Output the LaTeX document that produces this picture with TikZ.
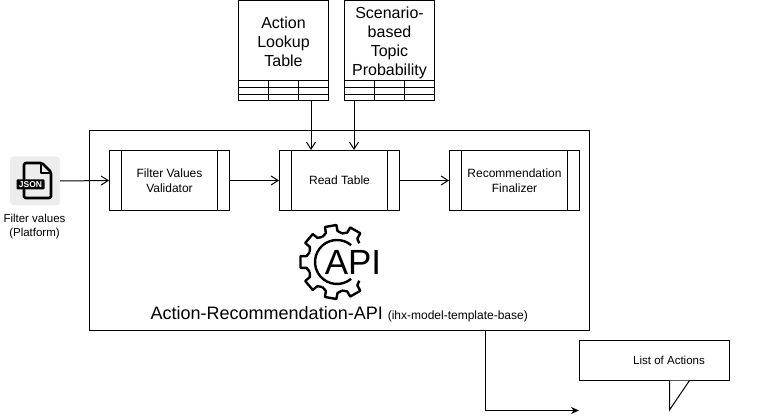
\documentclass[tikz,border=0pt]{standalone}
\usepackage{fontspec}
\setmainfont{Liberation Sans}
\usetikzlibrary{arrows.meta}

\tikzset{
    procbox/.style={draw=black, line width=1pt, minimum height=60pt, inner sep=0pt, align=center, font=\fontsize{12}{15}\selectfont},
    tablebox/.style={draw=black, line width=1pt, minimum width=90pt, minimum height=100pt, inner sep=0pt},
    tablelabel/.style={align=center, inner sep=0pt, font=\fontsize{16}{19}\selectfont},
    flow/.style={black, line width=1pt, -{Straight Barb[length=7pt,width=9pt]}},
}

\begin{document}
\begin{tikzpicture}[x=1pt, y=-1pt]
    \useasboundingbox (0,0) rectangle (760,419);
    \fill[white] (0,0) rectangle (760,419);

    % api box
    \node (apibox) [draw=black, line width=1pt, minimum width=500pt, minimum height=200pt, inner sep=0pt] at (339.5,230.5) {};

    % tables on top
    \node (lookup) [tablebox] at (283.5,50.5) {};
    \node (lookuptext) [tablelabel] at (283.5,41.5) {Action\\Lookup\\Table};
    \node (scenario) [tablebox] at (389.5,50.5) {};
    \node (scenariotext) [tablelabel] at (389.5,42.5) {Scenario-\\based\\Topic\\Probability};
    \foreach \tx in {238.5,344.5} {
        \foreach \ty in {80.5,87.5,94.5}
            \draw[black, line width=1pt] (\tx,\ty) -- (\tx+90,\ty);
        \draw[black, line width=1pt] (\tx+30,80.5) -- (\tx+30,100.5);
        \draw[black, line width=1pt] (\tx+60,80.5) -- (\tx+60,100.5);
    }

    % process boxes
    \node (validator) [procbox, minimum width=120pt] at (169.5,180.5) {Filter Values\\Validator};
    \node (readtable) [procbox, minimum width=120pt] at (339.5,180.5) {Read Table};
    \node (finalizer) [procbox, minimum width=130pt] at (514.5,180.5) {Recommendation\\Finalizer};
    \draw[black, line width=1pt] (121.5,150.5) -- (121.5,210.5);
    \draw[black, line width=1pt] (217.5,150.5) -- (217.5,210.5);
    \draw[black, line width=1pt] (291.5,150.5) -- (291.5,210.5);
    \draw[black, line width=1pt] (387.5,150.5) -- (387.5,210.5);
    \draw[black, line width=1pt] (461.5,150.5) -- (461.5,210.5);
    \draw[black, line width=1pt] (567.5,150.5) -- (567.5,210.5);

    % json icon
    \node (jsonicon) [fill=gray!14, rounded corners=4pt, minimum width=50pt, minimum height=49pt, inner sep=0pt] at (35,181) {};
    \draw[black, line width=2.6pt, line join=round, rounded corners=1.5pt] (24,180) -- (24,163) -- (42,163) -- (51,172) -- (51,198) -- (24,198) -- (24,189);
    \draw[black, line width=1.6pt, line join=round] (41,163) -- (41,173) -- (51,173);
    \node (jsontag) [fill=black, text=white, rounded corners=1pt, minimum width=28pt, minimum height=10pt, inner sep=0pt, font=\fontsize{8.5}{8.5}\selectfont\bfseries] at (30.5,184.5) {JSON};
    \node (jsonlabel) [align=center, inner sep=0pt, font=\fontsize{11.5}{14}\selectfont] at (34.5,227) {Filter values\\(Platform)};

    % api gear
    \foreach \a in {60,100,...,300} {
        \draw[black, line width=2.4pt, line join=round, shift={(337,262)}]
            (\a-20:29) -- (\a-11:31) -- (\a-9:37) -- (\a+9:37) -- (\a+11:31) -- (\a+20:29);
    }
    \draw[black, line width=2.4pt] (337,262) ++(50:22) arc[start angle=50, end angle=310, radius=22];
    \node (apitext) [inner sep=0pt, font=\fontsize{35}{35}\selectfont] at (353,262.5) {API};
    \node (apititle) [inner sep=0pt, anchor=base west] at (150.5,320) {\fontsize{18}{20}\selectfont Action-Recommendation-API \fontsize{12}{12}\selectfont (ihx-model-template-base)};

    % callout
    \node (actions) [draw=black, line width=1pt, minimum width=150pt, minimum height=40pt, inner sep=0pt] at (654.5,360.5) {};
    \node (actionstext) [inner sep=0pt, font=\fontsize{11.5}{14}\selectfont] at (669,360) {List of Actions};
    \draw[black, line width=1pt, fill=white] (669.5,380.5) -- (669.5,410) -- (689.5,380.5);
    \fill[white] (670.2,379) rectangle (688.5,380);

    % connectors
    \coordinate (lookupout) at (311,100.5);
    \coordinate (scenarioout) at (354,100.5);
    \coordinate (apiout) at (485,330.5);
    \coordinate (actionsin) at (579,410.5);
    \draw[flow] (jsonicon.east) -- (validator.west);
    \draw[flow] (validator.east) -- (readtable.west);
    \draw[flow] (readtable.east) -- (finalizer.west);
    \draw[flow] (lookupout) -- (lookupout |- readtable.north);
    \draw[flow] (scenarioout) -- (scenarioout |- readtable.north);
    \draw[black, line width=1pt, -{Stealth[length=8pt,width=7pt]}] (apiout) |- (actionsin);
\end{tikzpicture}
\end{document}
